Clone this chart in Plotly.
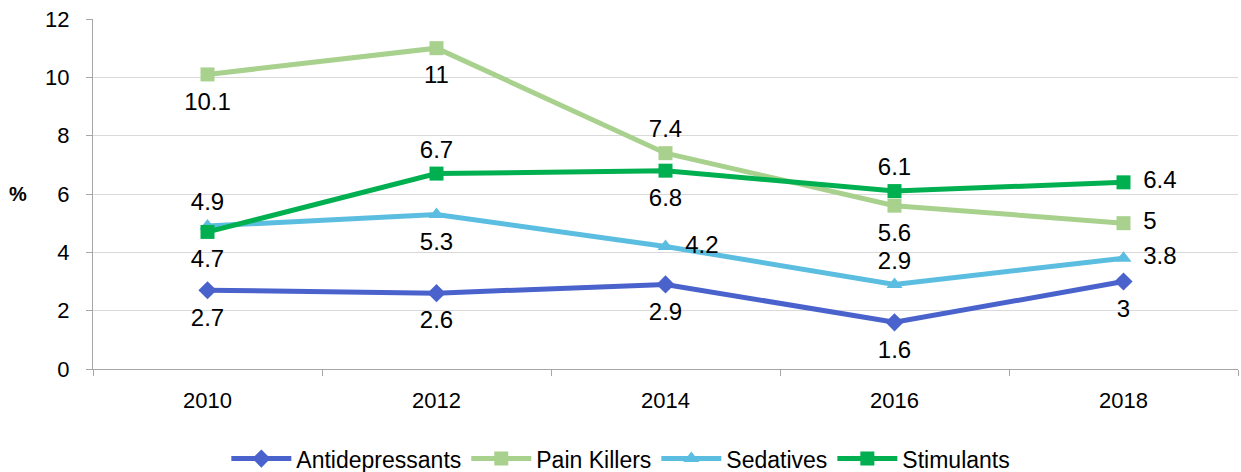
import plotly.graph_objects as go

years = ["2010", "2012", "2014", "2016", "2018"]
antidepressants = [2.7, 2.6, 2.9, 1.6, 3.0]
pain_killers = [10.1, 11.0, 7.4, 5.6, 5.0]
sedatives = [4.9, 5.3, 4.2, 2.9, 3.8]
stimulants = [4.7, 6.7, 6.8, 6.1, 6.4]

series = [
    ("Antidepressants", antidepressants, "#4A62CC", "diamond",
     ["bottom center"] * 5),
    ("Pain Killers", pain_killers, "#A9D18E", "square",
     ["bottom center", "bottom center", "top center", "bottom center", "middle right"]),
    ("Sedatives", sedatives, "#5BBEE0", "triangle-up",
     ["top center", "bottom center", "middle right", "top center", "middle right"]),
    ("Stimulants", stimulants, "#00B050", "square",
     ["bottom center", "top center", "bottom center", "top center", "middle right"]),
]

# invisible spacer size per label position (controls label distance from point)
SPACER = {"bottom center": 26, "top center": 14, "middle right": 30}

FONT = "Liberation Sans"
fig = go.Figure()
for name, vals, color, sym, pos in series:
    fig.add_trace(go.Scatter(
        x=years, y=vals, name=name, mode="lines+markers",
        line=dict(color=color, width=5),
        marker=dict(symbol=sym, size=14, color=color),
    ))
for name, vals, color, sym, pos in series:
    fig.add_trace(go.Scatter(
        x=years, y=vals, name=name + " labels", mode="markers+text",
        marker=dict(size=[SPACER[p] for p in pos], opacity=0),
        text=[f"{v:g}" for v in vals],
        textposition=pos,
        textfont=dict(size=24, color="#000000", family=FONT),
        cliponaxis=False, showlegend=False, hoverinfo="skip",
    ))

fig.update_layout(
    width=1241, height=472,
    margin=dict(l=93, r=3, t=19, b=103, autoexpand=False),
    plot_bgcolor="white", paper_bgcolor="white",
    font=dict(family=FONT, size=22, color="#000000"),
    showlegend=True,
    legend=dict(orientation="h", x=0.461, xanchor="center", y=-0.256, yanchor="middle",
                font=dict(size=23), traceorder="normal", itemwidth=60),
    xaxis=dict(type="category", range=[-0.5, 4.5], showgrid=False, automargin=False,
               showline=True, linecolor="#A6A6A6", linewidth=1,
               ticks="outside", tickson="boundaries", ticklen=6, tickcolor="#A6A6A6",
               tickfont=dict(size=22), ticklabelstandoff=12),
    yaxis=dict(range=[0, 12], dtick=2, showgrid=True, gridcolor="#D9D9D9", automargin=False,
               showline=True, linecolor="#A6A6A6", linewidth=1,
               ticks="outside", ticklen=6, tickcolor="#A6A6A6",
               zeroline=False, tickfont=dict(size=22), ticklabelstandoff=12),
)
fig.add_annotation(text="<b>%</b>", xref="paper", yref="paper", x=-0.0655, y=0.5,
                   showarrow=False, font=dict(size=20), xanchor="center")

fig.write_html("out.html", config={"displayModeBar": False},
               post_script="document.body.style.margin='0';document.body.style.overflow='hidden';")
